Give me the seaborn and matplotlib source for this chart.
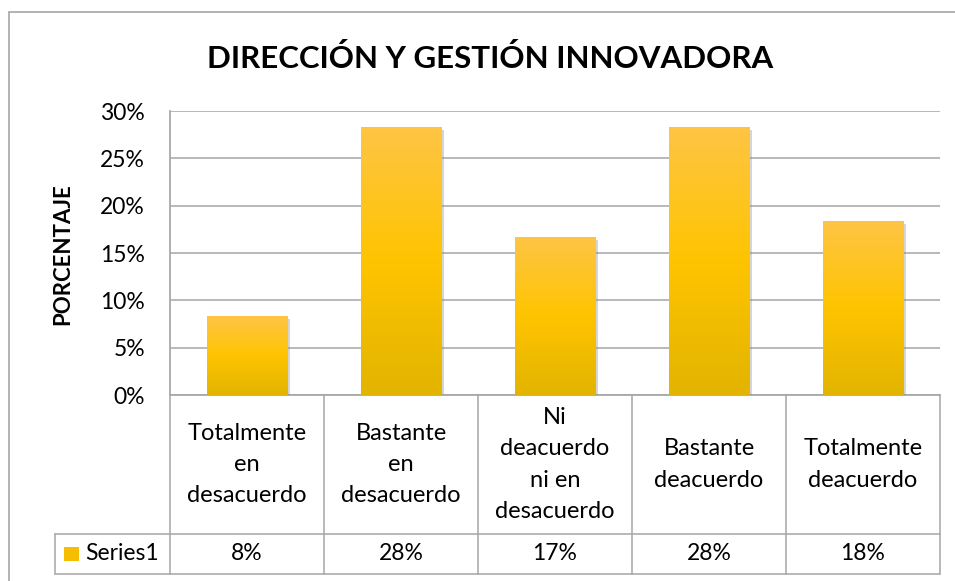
import matplotlib
matplotlib.use("Agg")
import matplotlib.pyplot as plt
import matplotlib.patheffects as pe
from matplotlib.colors import LinearSegmentedColormap
from matplotlib.patches import Rectangle
import numpy as np
import pandas as pd
import seaborn as sns

# data
categories = ["Totalmente\nen\ndesacuerdo", "Bastante\nen\ndesacuerdo",
              "Ni\ndeacuerdo\nni en\ndesacuerdo", "Bastante\ndeacuerdo",
              "Totalmente\ndeacuerdo"]
values = [8.33, 28.33, 16.67, 28.33, 18.33]
value_labels = ["8%", "28%", "17%", "28%", "18%"]
series_name = "Series1"
title = "DIRECCIÓN Y GESTIÓN INNOVADORA"
ylabel = "PORCENTAJE"

df = pd.DataFrame({"cat": categories, "val": values})

sns.set_theme(style="white")
plt.rcParams["font.family"] = ["Lato", "DejaVu Sans"]
plt.rcParams["text.color"] = "black"
plt.rcParams["ytick.color"] = "black"

W, H = 955, 581
fig = plt.figure(figsize=(W / 100, H / 100), dpi=100)
fig.patch.set_facecolor("white")

# plot area in pixels
px0, px1, py0, py1 = 170, 940, 111, 395
ax = fig.add_axes([px0 / W, 1 - py1 / H, (px1 - px0) / W, (py1 - py0) / H])

sns.barplot(data=df, x="cat", y="val", color="#FFC000", width=0.52,
            ax=ax, zorder=3, saturation=1)

ax.set_ylim(0, 30)
ax.set_xlim(-0.5, 4.5)
ax.set_yticks(range(0, 31, 5))
ax.set_yticklabels([f"{v}%" for v in range(0, 31, 5)], fontsize=16.5)
ax.tick_params(axis="y", length=0, pad=18)
ax.set_xticks([])
ax.set_xlabel("")
ax.set_ylabel("")
ax.yaxis.grid(True, color="#A6A6A6", linewidth=1.1, zorder=0)
for s in ["top", "right"]:
    ax.spines[s].set_visible(False)
ax.spines["left"].set_color("#A6A6A6")
ax.spines["bottom"].set_color("#A6A6A6")

# gradient fill on the bars
cmap = LinearSegmentedColormap.from_list("gold", ["#E2B400", "#FFC400", "#FEC545"])
grad = np.linspace(0, 1, 256).reshape(-1, 1)
for p in ax.patches:
    x0, y0 = p.get_x(), p.get_y()
    w, h = p.get_width(), p.get_height()
    p.set_edgecolor("none")
    p.set_path_effects([pe.SimplePatchShadow(offset=(2, -2), shadow_rgbFace="#888888", alpha=0.35),
                        pe.Normal()])
    im = ax.imshow(grad, extent=[x0, x0 + w, y0, y0 + h], origin="lower",
                   cmap=cmap, aspect="auto", zorder=4)
    im.set_clip_path(p)
ax.set_xlim(-0.5, 4.5)
ax.set_ylim(0, 30)

# data table under the axes
tr = ax.get_xaxis_transform()
hpx = py1 - py0
unit = (px1 - px0) / 5
row1 = -(534 - py1) / hpx
row2 = -(574 - py1) / hpx
left = -0.5 + (55 - px0) / unit
lc = dict(color="#A6A6A6", linewidth=1.1, transform=tr, clip_on=False)
ax.plot([left, 4.5], [row1, row1], **lc)
ax.plot([left, 4.5], [row2, row2], **lc)
ax.plot([left, left], [row1, row2], **lc)
for i in range(6):
    ax.plot([i - 0.5, i - 0.5], [0, row2], **lc)

for i, (c, v) in enumerate(zip(categories, value_labels)):
    ax.text(i, row1 / 2, c, transform=tr, ha="center", va="center",
            fontsize=17, linespacing=1.6, clip_on=False)
    ax.text(i, (row1 + row2) / 2, v, transform=tr, ha="center", va="center",
            fontsize=16.5, clip_on=False)
ax.text(left + 30 / unit, (row1 + row2) / 2, series_name, transform=tr, ha="left",
        va="center", fontsize=16.5, clip_on=False)
ax.add_patch(Rectangle((left + 9 / unit, (row1 + row2) / 2 - 7 / hpx), 15 / unit, 14 / hpx,
                       transform=tr, facecolor="#F5BE00", edgecolor="none", clip_on=False))

# title, y label, outer frame
fig.text(490 / W, 1 - 59 / H, title, ha="center", va="center",
         fontsize=22.5, fontweight="bold")
fig.text(63 / W, 1 - 254 / H, ylabel, ha="center", va="center", rotation=90,
         fontsize=16, fontweight="bold")
fig.add_artist(Rectangle((9 / W, -0.1), 1.2, 1 - 12 / H + 0.1, transform=fig.transFigure,
                         facecolor="none", edgecolor="#A6A6A6", linewidth=1.2))

fig.savefig("out.png", dpi=100)
